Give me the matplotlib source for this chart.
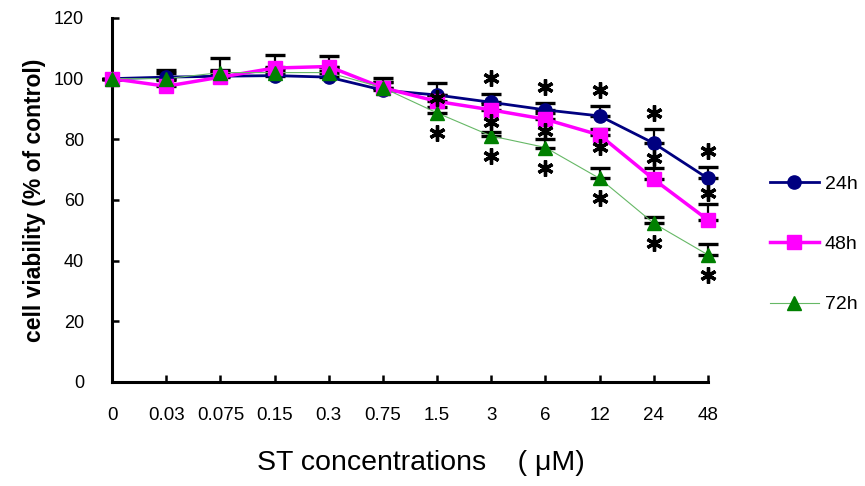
import numpy as np
import matplotlib
matplotlib.use("Agg")
import matplotlib.pyplot as plt
from matplotlib.lines import Line2D

plt.rcParams["font.family"] = ["Liberation Sans", "DejaVu Sans"]

# concentrations (categorical x axis)
conc = ["0", "0.03", "0.075", "0.15", "0.3", "0.75", "1.5", "3", "6", "12", "24", "48"]

# cell viability (% of control), upper SD
h24 = [100, 100.5, 100.8, 101, 100.5, 96.2, 94.6, 92.2, 89.7, 87.7, 78.7, 67.1]
h24_err = [0, 2.5, 2, 2, 2, 4, 4.1, 2.7, 2.4, 3.3, 4.7, 3.9]
h48 = [100, 97.5, 100.5, 103.5, 104, 97, 92.5, 89.7, 86.6, 81.4, 66.8, 53.4]
h48_err = [0, 2, 2, 4.3, 3.5, 2, 2, 2, 2, 2, 3.6, 5.3]
h72 = [100, 100, 102, 102, 102, 97, 88.7, 81.1, 77.3, 67.1, 52.3, 41.9]
h72_err = [0, 2, 4.8, 2, 2, 2, 2, 1.4, 2.7, 3.3, 2.2, 3.5]

# significance marks: where the asterisk goes ('' = none)
sig24 = ["", "", "", "", "", "", "", "above", "above", "above", "above", "above"]
sig48 = ["", "", "", "", "", "", "at", "below", "below", "below", "above", "above"]
sig72 = ["", "", "", "", "", "", "below", "below", "below", "below", "below", "below"]

fig = plt.figure(figsize=(8.65, 4.86), dpi=100)
ax = fig.add_axes([0.1295, 0.214, 0.689, 0.749])

x = np.arange(len(conc))
series = [
    (h24, h24_err, sig24, "24h", "#000080", "#000080", "o", 2.0, 9.5),
    (h48, h48_err, sig48, "48h", "#FF00FF", "#FF00FF", "s", 2.5, 9.5),
    (h72, h72_err, sig72, "72h", "#008000", "#66b866", "^", 0.8, 10.5),
]

for vals, err, sig, lab, col, lcol, mk, lw, ms in series:
    vals = np.array(vals, dtype=float)
    err = np.array(err, dtype=float)
    ax.plot(x, vals, color=lcol, lw=lw, zorder=2, clip_on=False)
    ax.plot(x, vals, ls="none", marker=mk, ms=ms, color=col, mec=col,
            zorder=3, clip_on=False)
    eb = ax.errorbar(x, vals, yerr=[np.zeros_like(err), err], fmt="none",
                     ecolor="black", elinewidth=1.6, capsize=7, capthick=2.4,
                     zorder=1.5)
    for art in eb.lines[1] + eb.lines[2]:
        art.set_clip_on(False)
    # asterisks
    for i, s in enumerate(sig):
        if s == "above":
            yy = vals[i] + err[i] + (5.3 if lab == "24h" else 3.6)
        elif s == "below":
            yy = vals[i] - (6.6 if lab == "72h" else 4.0)
        elif s == "at":
            yy = vals[i] + 1.0
        else:
            continue
        ax.plot(x[i], yy, ls="none", marker=(6, 2, 0), ms=11.5, mew=2.4,
                color="black", zorder=5, clip_on=False)

ax.set_xlim(0, 11)
ax.set_ylim(0, 120)
ax.set_xticks(x)
ax.set_xticklabels(conc)
ax.set_yticks(np.arange(0, 121, 20))
ax.tick_params(axis="x", direction="in", length=5, width=1.8, pad=18, labelsize=13.5)
ax.tick_params(axis="y", direction="in", length=5, width=1.8, pad=20, labelsize=13)
for side in ["top", "right"]:
    ax.spines[side].set_visible(False)
for side in ["left", "bottom"]:
    ax.spines[side].set_linewidth(2.2)

ax.set_ylabel("cell viability (% of control)", fontsize=16.5, fontweight="bold", labelpad=6)
ax.set_xlabel("ST concentrations    ( \u03bcM)", fontsize=20.5, labelpad=19)
ax.xaxis.label.set_x(0.518)

handles = [
    Line2D([], [], color="#000080", lw=2.0, marker="o", ms=9.5),
    Line2D([], [], color="#FF00FF", lw=2.5, marker="s", ms=9.5),
    Line2D([], [], color="#66b866", lw=0.8, marker="^", ms=10.5, mfc="#008000", mec="#008000"),
]
fig.legend(handles, ["24h", "48h", "72h"], loc="upper left",
           bbox_to_anchor=(0.879, 0.66), frameon=False, fontsize=14,
           handlelength=2.5, labelspacing=2.2, handletextpad=0.3, borderpad=0)

fig.savefig("out.png", dpi=100)
